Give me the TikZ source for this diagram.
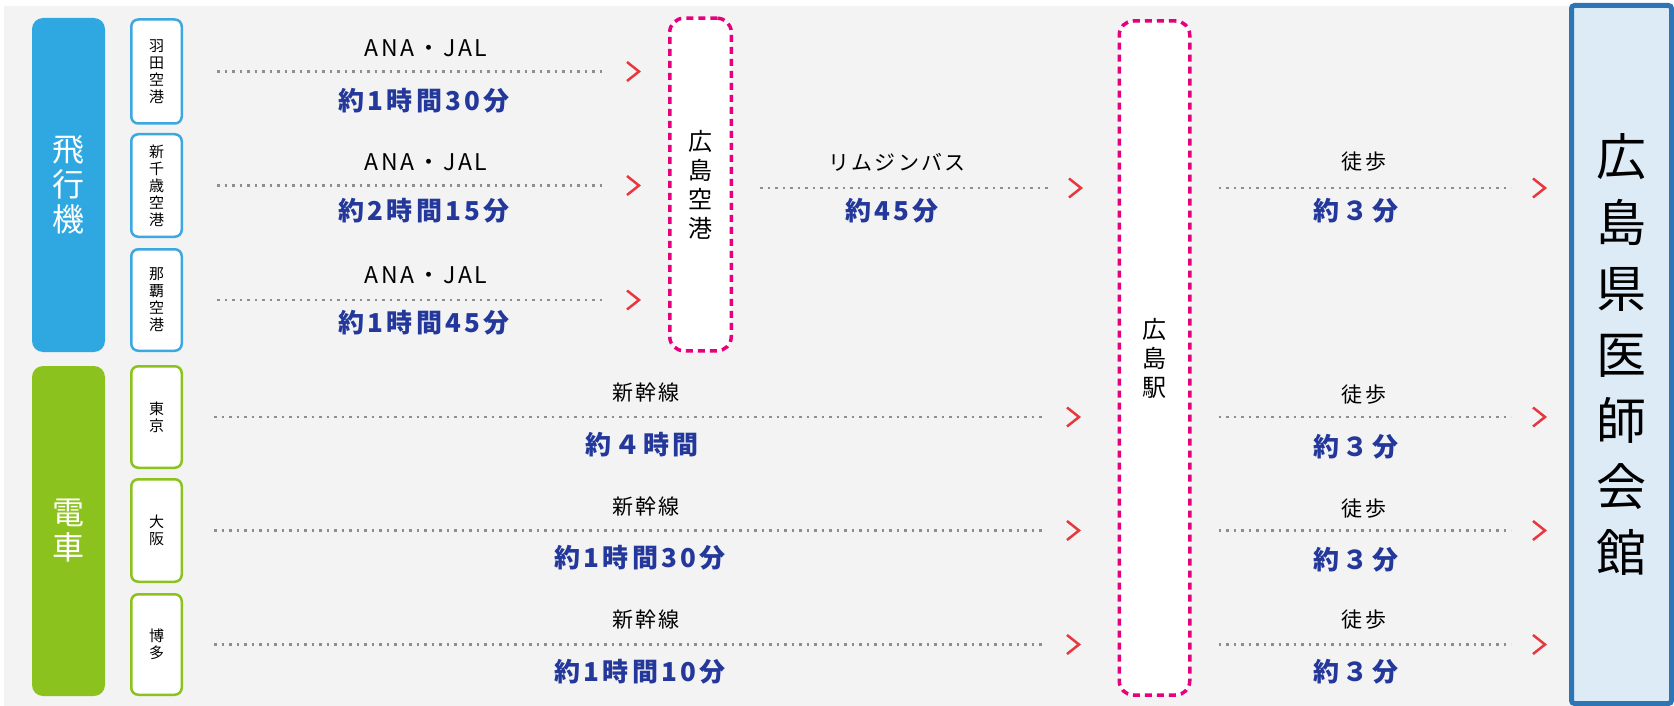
\documentclass[tikz,border=0pt]{standalone}
\usepackage{fontspec}
\setmainfont{Noto Sans CJK JP}
\newfontfamily\timefont[LetterSpace=12]{Noto Sans CJK JP}
\newfontfamily\labfont[LetterSpace=10]{Noto Sans CJK JP}
\newfontfamily\anafont[LetterSpace=12]{Noto Sans CJK JP}
\definecolor{bgGray}{HTML}{F3F3F3}
\definecolor{skyB}{HTML}{2FA8E1}
\definecolor{leafG}{HTML}{8CC21E}
\definecolor{pinkM}{HTML}{E6007E}
\definecolor{chevR}{HTML}{E8383D}
\definecolor{navyT}{HTML}{23389A}
\definecolor{dotG}{HTML}{8E8E8E}
\definecolor{kaikanB}{HTML}{2E75B6}
\definecolor{kaikanF}{HTML}{DDEBF7}
\definecolor{srcB}{HTML}{3DA8E0}
\begin{document}
\begin{tikzpicture}[x=1pt,y=-1pt,
  catbox/.style={rounded corners=11pt, minimum width=73pt, inner sep=0pt, text=white, align=center, font=\fontsize{32}{35}\selectfont},
  srcbox/.style={draw, line width=2.5pt, fill=white, rounded corners=7pt, minimum width=50.5pt, inner sep=0pt, align=center, font=\fontsize{15}{17}\selectfont},
  hubbox/.style={draw=pinkM, fill=white, line width=3.5pt, dash pattern=on 7pt off 5pt, rounded corners=14pt, inner sep=0pt, align=center, font=\fontsize{24}{29}\selectfont},
  dotline/.style={dotG, line width=2.7pt, dash pattern=on 2.7pt off 4.8pt},
  chev/.style={chevR, line width=2.5pt},
  chevron/.pic={\draw[chev] (-12,-9.5) -- (0,0) -- (-12,9.5);},
  toplab/.style={font=\labfont\fontsize{21}{24}\selectfont, text=black, inner sep=0pt},
  analab/.style={font=\anafont\fontsize{23}{26}\selectfont, text=black, inner sep=0pt},
  timelab/.style={font=\timefont\bfseries\fontsize{26}{30}\selectfont, text=navyT, inner sep=0pt}
]
\useasboundingbox (0,0) rectangle (1674,706);
\fill[bgGray] (4,6) rectangle (1572,706);

% categories
\node[catbox, fill=skyB, minimum height=334pt] (plane) at (68.5,185) {飛\\行\\機};
\node[catbox, fill=leafG, minimum height=330pt] (train) at (68.5,531) {電\\車};

% origins
\node[srcbox, draw=srcB, minimum height=104pt] (haneda) at (156.5,71.5) {羽\\田\\空\\港};
\node[srcbox, draw=srcB, minimum height=102.5pt] (chitose) at (156.5,185.5) {新\\千\\歳\\空\\港};
\node[srcbox, draw=srcB, minimum height=101.5pt] (naha) at (156.5,300) {那\\覇\\空\\港};
\node[srcbox, draw=leafG, minimum height=101.5pt] (tokyo) at (156.5,417) {東\\京};
\node[srcbox, draw=leafG, minimum height=102.5pt] (osaka) at (156.5,530.5) {大\\阪};
\node[srcbox, draw=leafG, minimum height=100.5pt] (hakata) at (156.5,644.5) {博\\多};

% hubs
\node[hubbox, minimum width=61.5pt, minimum height=332.5pt] (kuko) at (700.5,184.5) {広\\島\\空\\港};
\node[hubbox, minimum width=70.5pt, minimum height=674pt] (eki) at (1154.5,358) {広\\島\\駅};

% destination
\node[draw=kaikanB, fill=kaikanF, line width=5pt, rounded corners=3pt, minimum width=100pt, minimum height=698pt, inner sep=0pt, align=center, font=\fontsize{50}{66}\selectfont] (kaikan) at (1621.5,354.5) {広\\島\\県\\医\\師\\会\\館};

% air routes
\draw[dotline, shorten <=34pt, shorten >=63pt] (haneda.east) -- (haneda.east -| kuko.west);
\draw[dotline, shorten <=34pt, shorten >=63pt] (chitose.east) -- (chitose.east -| kuko.west);
\draw[dotline, shorten <=34pt, shorten >=63pt] (naha.east) -- (naha.east -| kuko.west);
\coordinate (cha1) at (639,71.5);
\coordinate (cha2) at (639,185.5);
\coordinate (cha3) at (639,300);
\pic at (cha1) {chevron};
\pic at (cha2) {chevron};
\pic at (cha3) {chevron};
\node[analab] (l1) at (426,48) {ANA・JAL};
\node[timelab] (t1) at (424,101) {約1時間30分};
\node[analab] (l2) at (426,162) {ANA・JAL};
\node[timelab] (t2) at (424,211) {約2時間15分};
\node[analab] (l3) at (426,275) {ANA・JAL};
\node[timelab] (t3) at (424,323) {約1時間45分};

% bus
\coordinate (busY) at (0,188);
\draw[dotline, shorten <=27pt, shorten >=66pt] (kuko.east |- busY) -- (eki.west |- busY);
\coordinate (chb) at (1081,188);
\pic at (chb) {chevron};
\node[toplab] (lb) at (897,162) {リムジンバス};
\node[timelab] (tb) at (892,211) {約45分};

% trains
\draw[dotline, shorten <=31pt, shorten >=72pt] (tokyo.east) -- (tokyo.east -| eki.west);
\draw[dotline, shorten <=31pt, shorten >=72pt] (osaka.east) -- (osaka.east -| eki.west);
\draw[dotline, shorten <=31pt, shorten >=72pt] (hakata.east) -- (hakata.east -| eki.west);
\coordinate (cht1) at (1079,417);
\coordinate (cht2) at (1079,530.5);
\coordinate (cht3) at (1079,644.5);
\pic at (cht1) {chevron};
\pic at (cht2) {chevron};
\pic at (cht3) {chevron};
\node[toplab] (ls1) at (646,393) {新幹線};
\node[timelab] (ts1) at (642,445) {約４時間};
\node[toplab] (ls2) at (646,507) {新幹線};
\node[timelab] (ts2) at (640,558) {約1時間30分};
\node[toplab] (ls3) at (646,620) {新幹線};
\node[timelab] (ts3) at (640,672) {約1時間10分};

% walking
\draw[dotline, shorten <=27pt, shorten >=58pt] (eki.east |- busY) -- (kaikan.west |- busY);
\draw[dotline, shorten <=27pt, shorten >=58pt] (eki.east |- tokyo) -- (kaikan.west |- tokyo);
\draw[dotline, shorten <=27pt, shorten >=58pt] (eki.east |- osaka) -- (kaikan.west |- osaka);
\draw[dotline, shorten <=27pt, shorten >=58pt] (eki.east |- hakata) -- (kaikan.west |- hakata);
\coordinate (chw1) at (1545,188);
\coordinate (chw2) at (1545,417);
\coordinate (chw3) at (1545,530.5);
\coordinate (chw4) at (1545,644.5);
\pic at (chw1) {chevron};
\pic at (chw2) {chevron};
\pic at (chw3) {chevron};
\pic at (chw4) {chevron};
\node[toplab] (lw1) at (1364,162) {徒歩};
\node[timelab] (tw1) at (1356,211) {約３分};
\node[toplab] (lw2) at (1364,395) {徒歩};
\node[timelab] (tw2) at (1356,447) {約３分};
\node[toplab] (lw3) at (1364,509) {徒歩};
\node[timelab] (tw3) at (1356,560) {約３分};
\node[toplab] (lw4) at (1364,620) {徒歩};
\node[timelab] (tw4) at (1356,672) {約３分};
\end{tikzpicture}
\end{document}
